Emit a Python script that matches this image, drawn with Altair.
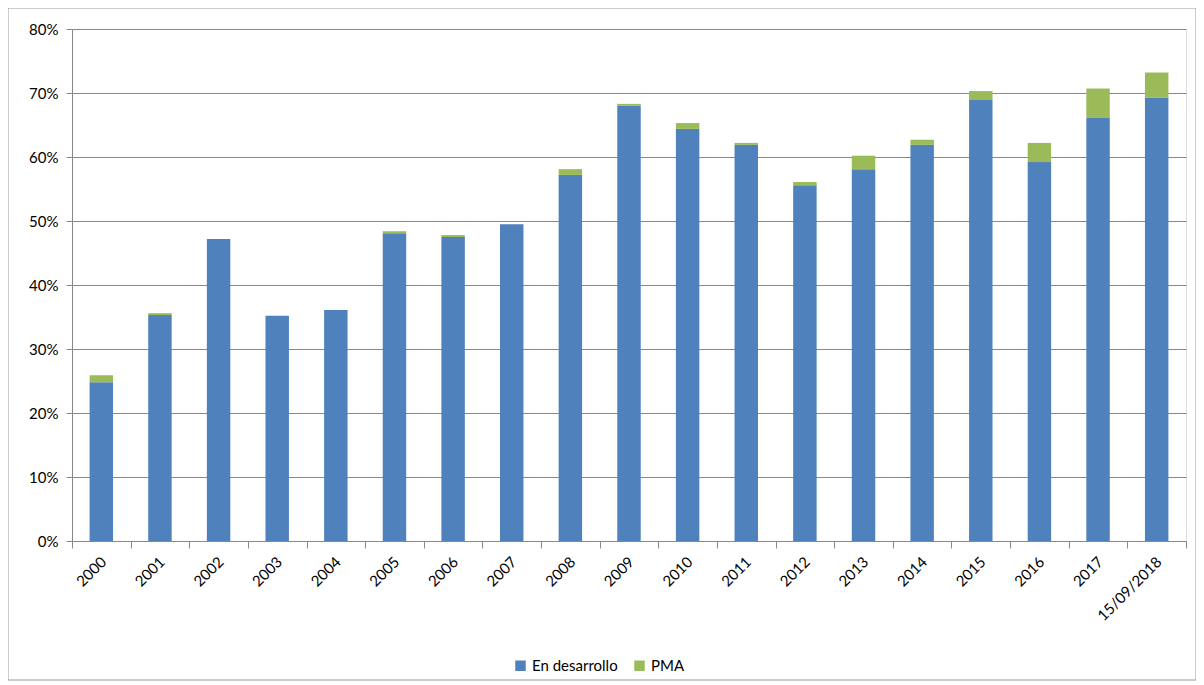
import altair as alt
import pandas as pd

categories = ["2000", "2001", "2002", "2003", "2004", "2005", "2006", "2007", "2008", "2009",
              "2010", "2011", "2012", "2013", "2014", "2015", "2016", "2017", "15/09/2018"]
en_desarrollo = [24.8, 35.3, 47.2, 35.2, 36.1, 48.1, 47.5, 49.5, 57.2, 68.0,
                 64.4, 61.9, 55.6, 58.1, 61.9, 68.9, 59.2, 66.1, 69.3]
pma = [1.1, 0.3, 0.0, 0.0, 0.0, 0.3, 0.3, 0.0, 0.9, 0.3,
       0.9, 0.3, 0.5, 2.1, 0.8, 1.4, 3.0, 4.6, 3.9]
series = ["En desarrollo", "PMA"]
colors = ["#4F81BD", "#9BBB59"]

rows = []
for c, a, b in zip(categories, en_desarrollo, pma):
    rows.append({"cat": c, "serie": series[0], "val": a, "ord": 0})
    rows.append({"cat": c, "serie": series[1], "val": b, "ord": 1})
df = pd.DataFrame(rows)

FONT = "Lato"
W, H = 1114, 512

bars = alt.Chart(df).mark_bar(width=alt.RelativeBandSize(0.4)).encode(
    x=alt.X("cat:N", sort=categories,
            scale=alt.Scale(paddingInner=0, paddingOuter=0),
            axis=alt.Axis(title=None, labelAngle=-45, labelAlign="right", labelBaseline="top",
                          labelFontSize=15, labelColor="#000", labelFont=FONT,
                          tickBand="extent", tickSize=7, tickColor="#888",
                          domainColor="#888", labelPadding=6, labelOffset=-3)),
    y=alt.Y("val:Q", stack="zero",
            scale=alt.Scale(domain=[0, 80], nice=False),
            axis=alt.Axis(title=None, values=[0, 10, 20, 30, 40, 50, 60, 70, 80],
                          labelExpr="datum.value + '%'", labelFontSize=15, labelColor="#000",
                          labelFont=FONT, tickSize=6, tickColor="#888", domainColor="#888",
                          gridColor="#888", gridWidth=1, labelPadding=8)),
    color=alt.Color("serie:N", scale=alt.Scale(domain=series, range=colors),
                    legend=alt.Legend(title=None, orient="none", direction="horizontal",
                                      legendX=441, legendY=629, symbolType="square",
                                      symbolSize=110, symbolStrokeWidth=0, labelFontSize=15,
                                      labelFont=FONT, labelColor="#000", columnPadding=14,
                                      symbolOpacity=1)),
    order=alt.Order("ord:Q"),
)

frame = alt.Chart(pd.DataFrame({"a": [0]})).mark_rect(
    fill="transparent", stroke="#999", strokeWidth=1
).encode(x=alt.value(-64), x2=alt.value(W + 10), y=alt.value(-21), y2=alt.value(H + 139))

chart = alt.layer(bars, frame).properties(
    width=W, height=H,
    autosize=alt.AutoSizeParams(type="none"),
    padding={"left": 64, "top": 21, "right": 10, "bottom": 140},
).configure_view(stroke=None).configure(font=FONT)

chart.save("out.html", embed_options={"renderer": "svg", "actions": False})
